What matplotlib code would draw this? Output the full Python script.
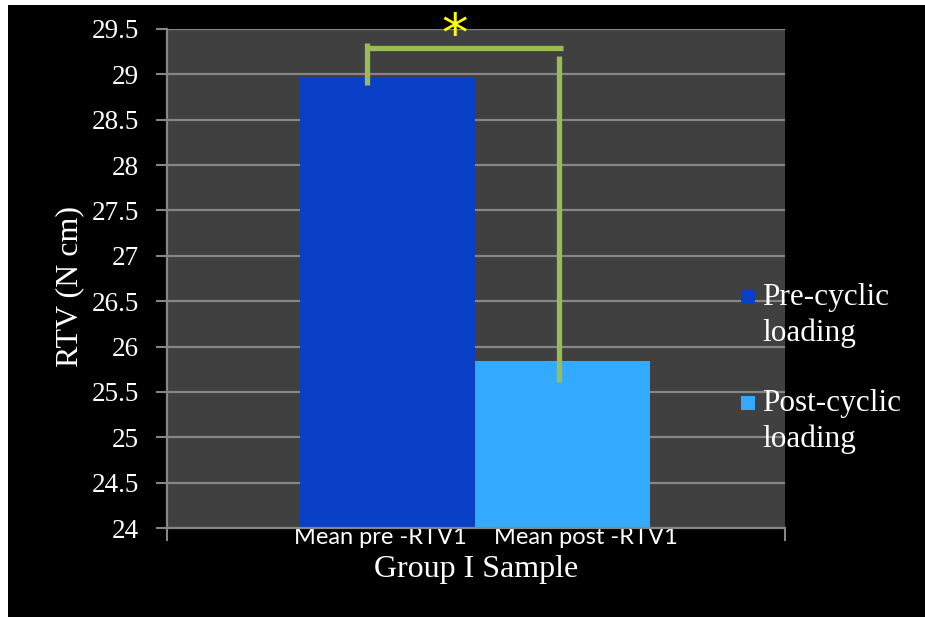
import matplotlib
matplotlib.use("Agg")
import matplotlib.pyplot as plt
from matplotlib.patches import Rectangle
from matplotlib.lines import Line2D

# ---- data -------------------------------------------------------------
categories = ["Mean pre -RTV1", "Mean post -RTV1"]
series_names = ["Pre-cyclic\nloading", "Post-cyclic\nloading"]
rtv_values = [28.97, 25.84]
y_ticks = [24, 24.5, 25, 25.5, 26, 26.5, 27, 27.5, 28, 28.5, 29, 29.5]
y_tick_labels = ["24", "24.5", "25", "25.5", "26", "26.5", "27", "27.5",
                 "28", "28.5", "29", "29.5"]

# ---- style ------------------------------------------------------------
bar_colors = ["#0A40C8", "#33AAFF"]
bracket_color = "#9BBB59"
grid_color = "#868686"
plot_bg = "#404040"
serif = "Liberation Serif"
sans = "Lato"
plt.rcParams["font.family"] = [serif, "DejaVu Serif"]

W, H = 925, 617
fig = plt.figure(figsize=(W / 100, H / 100), dpi=100, facecolor="black")

# thin white frame on the top and left edges
fig.add_artist(Rectangle((0, 1 - 5 / H), 1, 5 / H, transform=fig.transFigure,
                         facecolor="white", edgecolor="none", zorder=10))
fig.add_artist(Rectangle((0, 0), 8 / W, 1, transform=fig.transFigure,
                         facecolor="white", edgecolor="none", zorder=10))

ax = fig.add_axes([167 / W, 1 - 528 / H, (785 - 167) / W, (528 - 29) / H])
ax.set_facecolor(plot_bg)
ax.set_xlim(0, 2)
ax.set_ylim(24, 29.5)

# bars
bar_left = [0.430, 0.997]
bar_width = 0.567
for left, val, col in zip(bar_left, rtv_values, bar_colors):
    ax.bar(left, val - 24, bottom=24, width=bar_width, align="edge",
           color=col, edgecolor="none", zorder=3)

# grid and axes
ax.set_yticks(y_ticks)
ax.set_yticklabels(y_tick_labels, fontfamily=serif, fontsize=19.5,
                   color="white")
ax.yaxis.grid(True, color=grid_color, linewidth=1.6, zorder=1)
ax.set_axisbelow(True)
ax.tick_params(axis="y", length=8, width=1.5, color=grid_color, pad=12,
               labelsize=19.5, labelcolor="white")
ax.set_xticks([0, 2])
ax.set_xticklabels(["", ""])
ax.tick_params(axis="x", length=9, width=1.5, color=grid_color)
for s in ["top", "right"]:
    ax.spines[s].set_visible(False)
for s in ["left", "bottom"]:
    ax.spines[s].set_color(grid_color)
    ax.spines[s].set_linewidth(1.6)
    ax.spines[s].set_zorder(4)

# category labels under each bar
label_x = [0.69, 1.355]
for x, lab in zip(label_x, categories):
    ax.text(x, -0.02, lab, transform=ax.get_xaxis_transform(), ha="center",
            va="center", fontfamily=sans, fontsize=17, color="white")

ax.text(0.5, -0.084, "Group I Sample", transform=ax.transAxes, ha="center",
        va="center", fontfamily=serif, fontsize=23, color="white")
fig.text(70 / W, 1 - 287 / H, "RTV (N cm)", rotation=90, ha="center",
         va="center", fontfamily=serif, fontsize=23, color="white")

# significance bracket
x_left, x_right, x_end = 0.647, 1.269, 1.282
y_bar = 29.29
lw = 3.8
ax.add_line(Line2D([x_left, x_left], [rtv_values[0] - 0.09, 29.346],
                   color=bracket_color, lw=lw, solid_capstyle="butt", zorder=5))
ax.add_line(Line2D([x_left, x_end], [y_bar, y_bar],
                   color=bracket_color, lw=lw, solid_capstyle="butt", zorder=5))
ax.add_line(Line2D([x_right, x_right], [rtv_values[1] - 0.23, 29.20],
                   color=bracket_color, lw=lw, solid_capstyle="butt", zorder=5))
fig.text(455 / W, 1 - 36 / H, "*", ha="center", va="center",
         fontfamily="DejaVu Sans", fontsize=38, color="#FFFF00")

# legend
legend_y = [297, 403]
for yy, name, col in zip(legend_y, series_names, bar_colors):
    fig.add_artist(Rectangle((741 / W, 1 - (yy + 7) / H), 14 / W, 14 / H,
                             transform=fig.transFigure, facecolor=col,
                             edgecolor="none"))
    fig.text(762 / W, 1 - (yy - 14) / H, name, ha="left", va="top",
             fontfamily=serif, fontsize=22.5, color="white", linespacing=1.3)

fig.savefig("out.png", dpi=100, facecolor="black")
